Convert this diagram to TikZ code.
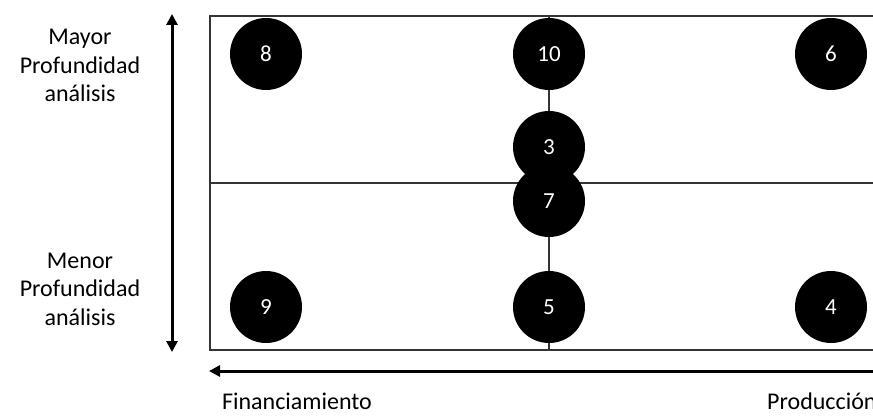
\documentclass[tikz,border=0pt]{standalone}
\usepackage{fontspec}
\setmainfont{Carlito}
\usetikzlibrary{arrows.meta}
\begin{document}
\begin{tikzpicture}[x=1pt,y=-1pt,
  dot/.style={circle,fill=black,minimum size=72pt,inner sep=0pt,text=white,font=\fontsize{23}{27}\selectfont},
  lab/.style={align=center,anchor=base,inner sep=0pt,font=\fontsize{24}{28.5}\selectfont},
  gridline/.style={draw=black!80,line width=1.3pt},
  axis/.style={line width=3pt,-{Triangle[width=11pt,length=11pt]}}]
\useasboundingbox (0,0) rectangle (873,417);
\clip (0,0) rectangle (873,417);
% frame
\coordinate (tl) at (210,16);
\coordinate (br) at (900,350);
\draw[gridline] (tl) rectangle (br);
\coordinate (mt) at (549,16);
\coordinate (mb) at (549,350);
\coordinate (hl) at (210,183);
\coordinate (hr) at (900,183);
\draw[gridline] (mt) -- (mb);
\draw[gridline] (hl) -- (hr);
% dots
\node[dot] (n8) at (266,54) {8};
\node[dot] (n10) at (549,54) {10};
\node[dot] (n6) at (831,54) {6};
\node[dot] (n3) at (549,147) {3};
\node[dot] (n7) at (549,201) {7};
\node[dot] (n9) at (266,307) {9};
\node[dot] (n5) at (549,307) {5};
\node[dot] (n4) at (831,307) {4};
% axes
\coordinate (vb) at (172,352);
\coordinate (vt) at (172,14);
\draw[axis,{Triangle[width=11pt,length=11pt]}-{Triangle[width=11pt,length=11pt]}] (vb) -- (vt);
\coordinate (hs) at (900,371);
\coordinate (he) at (209,371);
\draw[axis] (hs) -- (he);
% labels
\node[lab] (top) at (80,102) {Mayor\\Profundidad\\análisis};
\node[lab] (bot) at (80,325) {Menor\\Profundidad\\análisis};
\node[lab] (fin) at (297,409) {Financiamiento};
\node[lab,anchor=base west] (pro) at (767,409) {Producción};
\end{tikzpicture}
\end{document}
